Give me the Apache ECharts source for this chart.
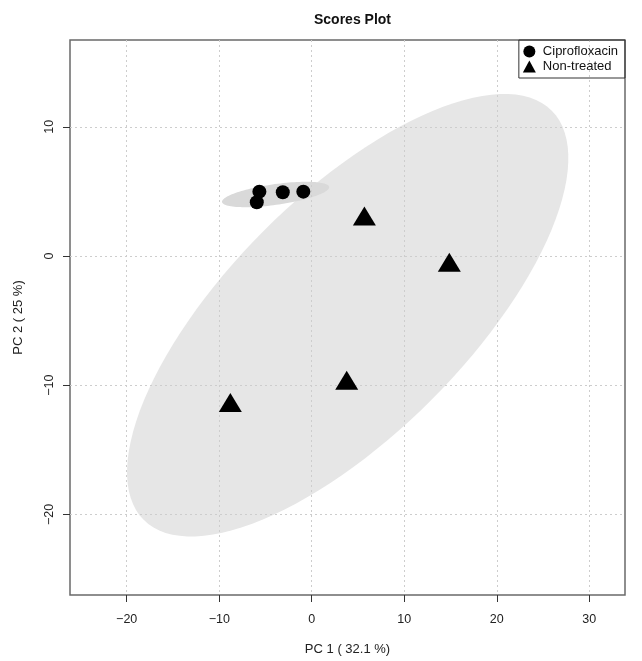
<!DOCTYPE html>
<html><head><meta charset="utf-8">
<script src="https://cdn.jsdelivr.net/npm/echarts@6/dist/echarts.min.js"></script>
<style>html,body{margin:0;padding:0;background:#fff}#c{width:642px;height:661px}</style>
</head><body><div id="c"></div>
<script>
// ---- data ----
const groups = ['Ciprofloxacin', 'Non-treated'];
const ciproX = [-5.66, -5.94, -3.13, -0.91];
const ciproY = [4.98, 4.16, 4.93, 4.98];
const nonX = [-8.80, 3.78, 5.69, 14.87];
const nonY = [-11.34, -9.62, 3.10, -0.48];
const xTicks = [-20, -10, 0, 10, 20, 30];
const yTicks = [-20, -10, 0, 10];
const xRange = [-26.13, 33.86];
const yRange = [-26.24, 16.72];

const FONT = '"Liberation Sans", Arial, Helvetica, sans-serif';

// 95% confidence ellipse (as in R ellipse package): t = sqrt(qchisq(0.95, 2))
function confEllipse(xs, ys) {
  const t = Math.sqrt(5.991464547);
  const n = xs.length;
  const mx = xs.reduce((a, b) => a + b, 0) / n;
  const my = ys.reduce((a, b) => a + b, 0) / n;
  let sxx = 0, syy = 0, sxy = 0;
  for (let i = 0; i < n; i++) {
    sxx += (xs[i] - mx) ** 2;
    syy += (ys[i] - my) ** 2;
    sxy += (xs[i] - mx) * (ys[i] - my);
  }
  sxx /= (n - 1); syy /= (n - 1); sxy /= (n - 1);
  const sx = Math.sqrt(sxx), sy = Math.sqrt(syy);
  const d = Math.acos(sxy / (sx * sy));
  const pts = [];
  for (let k = 0; k < 120; k++) {
    const a = 2 * Math.PI * k / 120;
    pts.push([mx + t * sx * Math.cos(a + d / 2), my + t * sy * Math.cos(a - d / 2)]);
  }
  return pts;
}
const ellipses = [confEllipse(nonX, nonY), confEllipse(ciproX, ciproY)];
const ellipseFill = ['#e6e6e6', '#d9d9d9'];

const zip = (a, b) => a.map((v, i) => [v, b[i]]);
const minusFmt = v => String(v).replace('-', '\u2212');

const chart = echarts.init(document.getElementById('c'));
chart.setOption({
  animation: false,
  backgroundColor: '#ffffff',
  title: {
    text: 'Scores Plot', left: 347.5, top: 8, textAlign: 'center',
    textStyle: { fontSize: 14, fontWeight: 'bold', color: '#111', fontFamily: FONT }
  },
  grid: {
    left: 70, top: 40, width: 555, height: 555, show: true,
    borderColor: '#6a6a6a', borderWidth: 1.5, backgroundColor: 'transparent'
  },
  legend: {
    orient: 'vertical', right: 17, top: 40,
    borderColor: '#333', borderWidth: 1, padding: [5, 7, 5, 4],
    itemGap: 2, itemWidth: 13, itemHeight: 12,
    textStyle: { fontSize: 13, color: '#111', fontFamily: FONT, padding: [0, 0, 0, 2] },
    data: [{ name: groups[0], icon: 'circle' }, { name: groups[1], icon: 'triangle' }]
  },
  xAxis: {
    type: 'value', min: xRange[0], max: xRange[1],
    axisLine: { show: false, onZero: false },
    axisTick: { show: true, customValues: xTicks, length: 7, lineStyle: { color: '#333' } },
    axisLabel: { customValues: xTicks, margin: 18, fontSize: 12.5, color: '#222', fontFamily: FONT, formatter: minusFmt },
    splitLine: { show: true, lineStyle: { color: '#cdcdcd', type: [2, 3], width: 1 } },
    name: 'PC 1 ( 32.1 %)', nameLocation: 'middle', nameGap: 48,
    nameTextStyle: { fontSize: 13, color: '#222', fontFamily: FONT }
  },
  yAxis: {
    type: 'value', min: yRange[0], max: yRange[1],
    axisLine: { show: false, onZero: false },
    axisTick: { show: true, customValues: yTicks, length: 7, lineStyle: { color: '#333' } },
    axisLabel: { customValues: yTicks, rotate: 90, margin: 14, fontSize: 12.5, color: '#222', fontFamily: FONT, formatter: minusFmt },
    splitLine: { show: true, lineStyle: { color: '#cdcdcd', type: [2, 3], width: 1 } },
    name: 'PC 2 ( 25 %)', nameLocation: 'middle', nameGap: 45,
    nameTextStyle: { fontSize: 13, color: '#222', fontFamily: FONT }
  },
  series: [
    {
      type: 'custom', name: 'ellipses', z: -1, silent: true,
      data: [[0, 0], [0, 0]],
      renderItem: (params, api) => {
        const pts = ellipses[params.dataIndex].map(p => api.coord(p));
        return { type: 'polygon', shape: { points: pts }, style: { fill: ellipseFill[params.dataIndex] } };
      }
    },
    {
      type: 'scatter', name: groups[0], symbol: 'circle', symbolSize: 14,
      itemStyle: { color: '#000', opacity: 1 }, data: zip(ciproX, ciproY)
    },
    {
      type: 'scatter', name: groups[1], symbol: 'triangle', symbolSize: [23, 19],
      itemStyle: { color: '#000', opacity: 1 }, data: zip(nonX, nonY)
    }
  ]
});
</script></body></html>
